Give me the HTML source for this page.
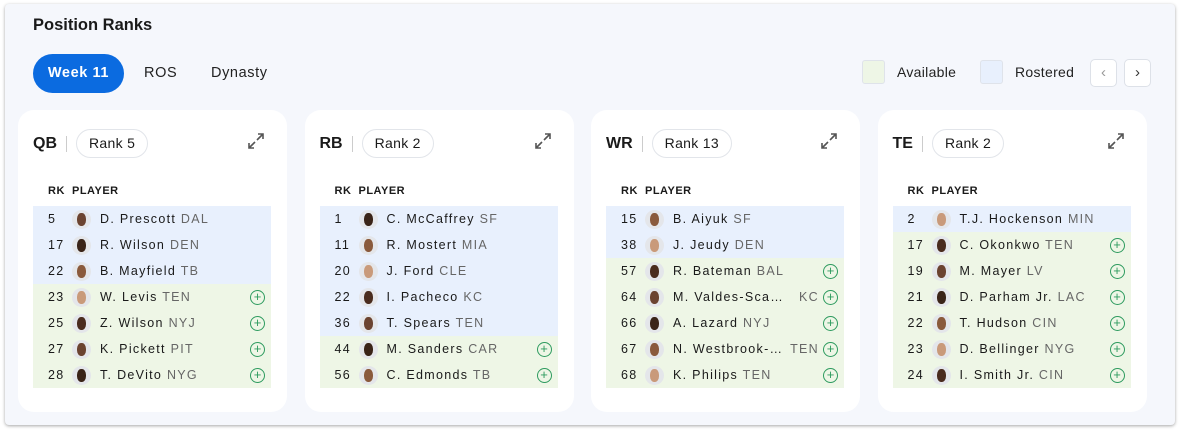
<!DOCTYPE html>
<html><head><meta charset="utf-8"><style>
*{box-sizing:border-box;margin:0;padding:0}
body{width:1184px;height:434px;background:#fff;font-family:"Liberation Sans",sans-serif;color:#1a1a1a;position:relative;overflow:hidden}
#panel{position:absolute;left:5px;top:4px;width:1170px;height:421px;background:#f5f7fc;border-radius:4px;box-shadow:0 1px 3px rgba(0,0,0,.35)}
#title{position:absolute;left:28px;top:12px;font-size:16.5px;font-weight:bold}
.tab{position:absolute;top:50px;height:39px;line-height:39px;font-size:14.5px;letter-spacing:.6px;color:#222}
#t1{left:28px;width:91px;background:#0b6be0;color:#fff;border-radius:20px;text-align:center;font-weight:bold}
.lbox{position:absolute;top:56px;width:23px;height:24px;border-radius:3px;border:1px solid #dfe3ea}
.ltxt{position:absolute;top:60px;font-size:14px;letter-spacing:.3px;color:#222}
.nav{position:absolute;top:55px;width:27px;height:28px;background:#fff;border:1px solid #dde1e8;border-radius:5px;text-align:center;line-height:26px;font-size:15px;color:#999}
.card{position:absolute;top:106px;width:269px;height:302px;background:#fff;border-radius:16px}
.head{position:absolute;left:15px;top:19px;height:29px;display:flex;align-items:center}
.pos{font-size:16px;font-weight:bold}
.div{width:1px;height:16px;background:#ccc;margin:0 9px}
.pill{height:29px;border:1px solid #e2e5ea;border-radius:15px;font-size:14px;line-height:27px;padding:0 12px;letter-spacing:.3px}
.exp{position:absolute;left:229px;top:22px}
.hdr{position:absolute;top:75px;font-size:11px;font-weight:bold;letter-spacing:.5px}
.row{position:absolute;left:15px;width:238px;height:26px;font-size:12.5px;letter-spacing:1.3px;line-height:26px}
.rk{position:absolute;left:15px}
.av{position:absolute;left:39px;top:4px;width:19px;height:19px;border-radius:50%;background:#e4e6ea;overflow:hidden}
.av i{position:absolute;left:5px;top:3px;width:9px;height:13px;border-radius:45%;background:#6b4330}
.nm{position:absolute;left:67px;white-space:nowrap}
.tm{color:#666}
.plus{position:absolute;left:217px;top:6px;width:15px;height:15px;border:1.3px solid #2e9b5f;border-radius:50%;color:#2e9b5f;font-size:13px;line-height:12px;text-align:center;letter-spacing:0}
</style></head><body>
<div id="panel">
<div id="title">Position Ranks</div>
<div class="tab" id="t1">Week 11</div>
<div class="tab" style="left:139px">ROS</div>
<div class="tab" style="left:206px">Dynasty</div>
<div class="lbox" style="left:857px;background:#eef6e6"></div>
<div class="ltxt" style="left:892px">Available</div>
<div class="lbox" style="left:975px;background:#e8f0fd"></div>
<div class="ltxt" style="left:1010px">Rostered</div>
<div class="nav" style="left:1085px">‹</div>
<div class="nav" style="left:1119px;color:#333">›</div>
</div>
<script>
const positions=["QB","RB","WR","TE"];
const posRanks=["Rank 5","Rank 2","Rank 13","Rank 2"];
const ranks=[[5,17,22,23,25,27,28],[1,11,20,22,36,44,56],[15,38,57,64,66,67,68],[2,17,19,21,22,23,24]];
const names=[["D. Prescott","R. Wilson","B. Mayfield","W. Levis","Z. Wilson","K. Pickett","T. DeVito"],
["C. McCaffrey","R. Mostert","J. Ford","I. Pacheco","T. Spears","M. Sanders","C. Edmonds"],
["B. Aiyuk","J. Jeudy","R. Bateman","M. Valdes-Sca…","A. Lazard","N. Westbrook-…","K. Philips"],
["T.J. Hockenson","C. Okonkwo","M. Mayer","D. Parham Jr.","T. Hudson","D. Bellinger","I. Smith Jr."]];
const teams=[["DAL","DEN","TB","TEN","NYJ","PIT","NYG"],["SF","MIA","CLE","KC","TEN","CAR","TB"],
["SF","DEN","BAL","KC","NYJ","TEN","TEN"],["MIN","TEN","LV","LAC","CIN","NYG","CIN"]];
const rostered=[[1,1,1,0,0,0,0],[1,1,1,1,1,0,0],[1,1,0,0,0,0,0],[1,0,0,0,0,0,0]];
const skin=["#6b4330","#3a2418","#8a5a3c","#c99a7a","#4a2c1e"];
const panel=document.getElementById('panel');
positions.forEach((p,c)=>{
 const card=document.createElement('div');card.className='card';card.style.left=(13+c*286.5)+'px';
 
 
 card.innerHTML=`<div class="head"><span class="pos">${p}</span><span class="div"></span><span class="pill">${posRanks[c]}</span></div>
 <svg class="exp" width="18" height="18" viewBox="0 0 18 18" fill="none" stroke="#555" stroke-width="1.6"><path d="M11 2h5v5M16 2l-6 6M7 16H2v-5M2 16l6-6"/></svg>
 <div class="hdr" style="left:30px">RK</div><div class="hdr" style="left:54px">PLAYER</div>`;
 const hd=card.querySelector('.head');
 
 const pill=card.querySelector('.pill');
 
 const ex=card.querySelector('.exp');
 
 ranks[c].forEach((r,i)=>{
  const row=document.createElement('div');row.className='row';row.style.top=(96+i*26)+'px';
  row.style.background=rostered[c][i]?'#e8f0fd':'#eef6e6';
  
  
  const trunc=names[c][i].endsWith('…');
  row.innerHTML=`<span class="rk">${r}</span><span class="av"><i style="background:${skin[(c+i)%5]}"></i></span>`+
  (trunc?`<span class="nm">${names[c][i]}</span><span class="tm" style="position:absolute;right:${rostered[c][i]?8:25}px">${teams[c][i]}</span>`
   :`<span class="nm">${names[c][i]} <span class="tm">${teams[c][i]}</span></span>`)+
  (rostered[c][i]?'':'<span class="plus">+</span>');
  const pl=row.querySelector('.plus');
  if(pl){}
  card.appendChild(row);
 });
 panel.appendChild(card);
});
</script>
</body></html>
